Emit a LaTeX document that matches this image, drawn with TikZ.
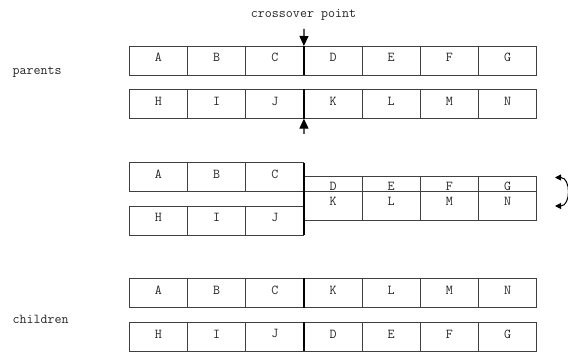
\documentclass[tikz,border=0pt]{standalone}
\usetikzlibrary{arrows.meta}
\newcommand\cellrow[5]{% #1 prefix, #2 y centre, #3 letters, #4 height, #5 text shift
  \foreach \L [count=\i] in {#3} {
    \node[cell, minimum height=#4] (#1\i) at ({158.4+58.2*(\i-1)}, #2) {};
    \node[lbl] (#1\i t) at ([yshift=#5]#1\i.center) {\L};
  }}
\newcommand\cellrowR[5]{% right part starting at column 4
  \foreach \L [count=\i from 4] in {#3} {
    \node[cell, minimum height=#4] (#1\i) at ({158.4+58.2*(\i-1)}, #2) {};
    \node[lbl] (#1\i t) at ([yshift=#5]#1\i.center) {\L};
  }}
\begin{document}
\begin{tikzpicture}[x=1pt,y=-1pt,
  cell/.style={draw=black!75, line width=0.9pt, minimum width=58.2pt, inner sep=0pt, outer sep=0pt},
  lbl/.style={font=\ttfamily\fontsize{13.6}{15}\selectfont, inner sep=0pt, text=black!85},
  caption/.style={font=\ttfamily\fontsize{13.6}{15}\selectfont, inner sep=0pt, text=black!85},
  cut/.style={line width=2.6pt, black},
  pointer/.style={line width=1.2pt, -{Triangle[width=9pt,length=10pt]}},
  swap/.style={line width=1pt, {Triangle[width=6pt,length=6pt]}-{Triangle[width=6pt,length=6pt]}}
]
\useasboundingbox (0,0) rectangle (568,352);

% parents
\cellrow{pa}{60.65}{A,B,C,D,E,F,G}{29.3pt}{3pt}
\cellrow{pb}{104}{H,I,J,K,L,M,N}{29.3pt}{3pt}
\draw[cut] (pa4.north west) -- (pa4.south west);
\draw[cut] (pb4.north west) -- (pb4.south west);
\coordinate (arrT) at (304,29);
\coordinate (arrB) at (304,134);
\draw[pointer] (arrT) -- (pa4.north west);
\draw[pointer] (arrB) -- (pb4.south west);
\node[caption, anchor=base] (xo) at (303.5,17.5) {crossover point};
\node[caption, anchor=base west] (par) at (12.5,74.5) {parents};

% middle (swap)
\cellrow{ma}{177.2}{A,B,C}{29pt}{3pt}
\cellrow{mb}{220.65}{H,I,J}{29.3pt}{3pt}
\cellrowR{mc}{184.2}{D,E,F,G}{15pt}{-2.5pt}
\cellrowR{md}{206.2}{K,L,M,N}{29pt}{4.5pt}
\draw[cut] (ma3.north east) -- (mb3.south east);
\coordinate (swT) at (555,177.5);
\coordinate (swB) at (555,206);
\draw[swap] (swT) .. controls (571,177.5) and (571,206) .. (swB);

% children
\cellrow{ca}{293}{A,B,C,K,L,M,N}{29.3pt}{3pt}
\cellrow{cb}{336.85}{H,I,J,D,E,F,G}{29.3pt}{3pt}
\draw[cut] (ca4.north west) -- (ca4.south west);
\draw[cut] (cb4.north west) -- (cb4.south west);
\node[caption, anchor=base west] (chi) at (12.5,323.5) {children};
\end{tikzpicture}
\end{document}
